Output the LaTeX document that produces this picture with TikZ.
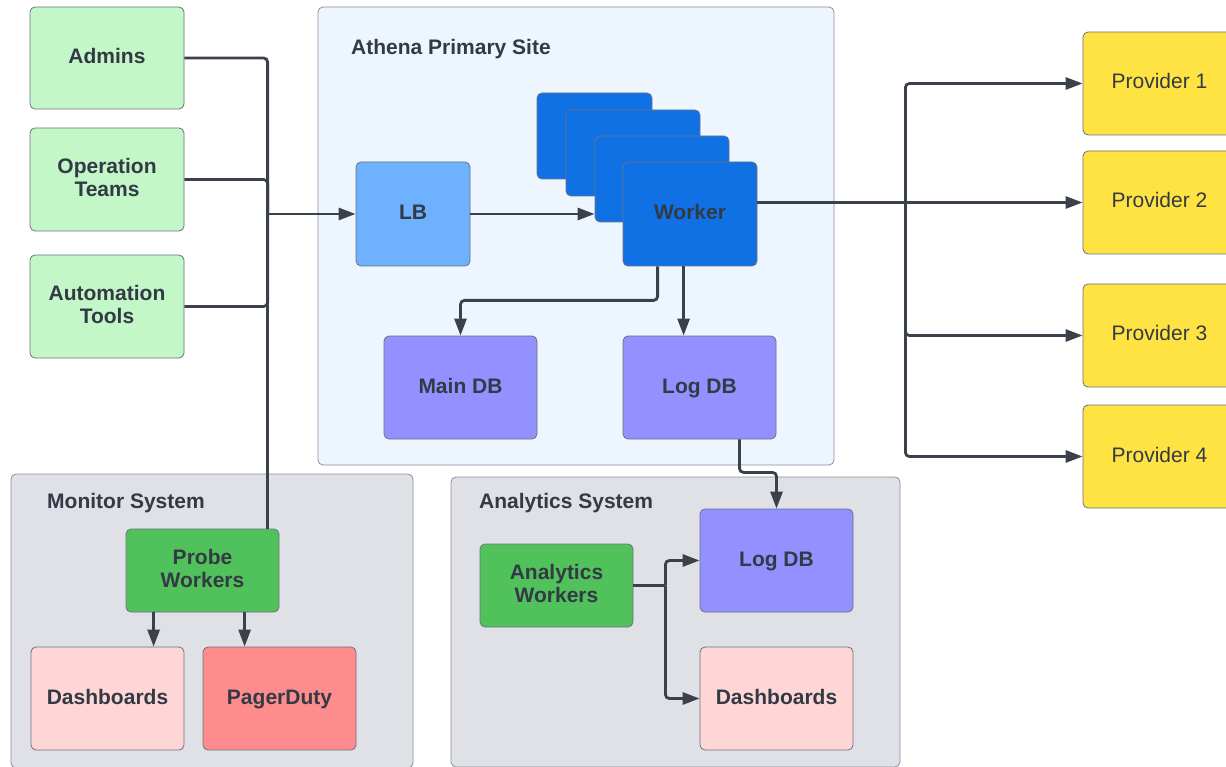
\documentclass[tikz,border=0pt]{standalone}
\usepackage{fontspec}
\setmainfont{Liberation Sans}
\usetikzlibrary{arrows.meta,calc}
\definecolor{txt}{HTML}{333A45}
\definecolor{lnc}{HTML}{3A414A}
\definecolor{bord}{HTML}{6B7280}
\definecolor{athfill}{HTML}{EDF5FE}
\definecolor{sysfill}{HTML}{DFE1E6}
\definecolor{lgreen}{HTML}{C3F7C8}
\definecolor{lbblue}{HTML}{6DB1FF}
\definecolor{wblue}{HTML}{1071E5}
\definecolor{dbpurple}{HTML}{9391FF}
\definecolor{pyellow}{HTML}{FFE342}
\definecolor{dgreen}{HTML}{51C15B}
\definecolor{lpink}{HTML}{FFD6D6}
\definecolor{lred}{HTML}{FF8C8C}
\begin{document}
\begin{tikzpicture}[x=1pt,y=-1pt,
  bx/.style={rounded corners=5pt, draw=bord, line width=0.8pt, inner sep=0pt, align=center,
    text height=15pt, text depth=4pt,
    font=\bfseries\fontsize{21}{23}\selectfont, text=txt},
  twoline/.style={text height=38pt, text depth=4pt},
  cont/.style={rounded corners=5pt, draw=bord!80, line width=0.8pt, inner sep=0pt},
  ttl/.style={anchor=base west, inner sep=0pt, font=\bfseries\fontsize{21}{23}\selectfont, text=txt},
  ln/.style={draw=lnc, line width=2.8pt, rounded corners=4pt},
  arr/.style={ln, -{Triangle[length=17pt,width=12pt]}}]
\useasboundingbox (0,0) rectangle (1226,767);
\fill[white] (0,0) rectangle (1226,767);
% containers
\node[cont, fill=athfill, minimum width=516pt, minimum height=458pt] (athena) at (576,236) {};
\node[cont, fill=sysfill, minimum width=402pt, minimum height=294pt] (monitor) at (212,621) {};
\node[cont, fill=sysfill, minimum width=449pt, minimum height=290pt] (analytics) at (675.5,622) {};
\node[ttl] (athtitle) at (351,54.5) {Athena Primary Site};
\node[ttl] (montitle) at (47,508.5) {Monitor System};
\node[ttl] (anatitle) at (479,508.5) {Analytics System};
% left sources
\node[bx, fill=lgreen, minimum width=154pt, minimum height=102pt] (admins) at (107,58) {Admins};
\node[bx, twoline, fill=lgreen, minimum width=154pt, minimum height=103pt] (ops) at (107,179.5) {Operation\\Teams};
\node[bx, twoline, fill=lgreen, minimum width=154pt, minimum height=103pt] (auto) at (107,306.5) {Automation\\Tools};
% athena
\node[bx, fill=lbblue, minimum width=114pt, minimum height=104pt] (lb) at (413,214) {LB};
\node[bx, fill=wblue, minimum width=115pt, minimum height=86pt] (w1) at (594.5,136) {};
\node[bx, fill=wblue, minimum width=134pt, minimum height=86pt] (w2) at (633,153) {};
\node[bx, fill=wblue, minimum width=134pt, minimum height=86pt] (w3) at (662,179) {};
\node[bx, fill=wblue, minimum width=134pt, minimum height=104pt] (worker) at (690,214) {Worker};
\node[bx, fill=dbpurple, minimum width=153pt, minimum height=103pt] (maindb) at (460.5,387.5) {Main DB};
\node[bx, fill=dbpurple, minimum width=153pt, minimum height=103pt] (logdb) at (699.5,387.5) {Log DB};
% providers
\foreach \i/\y in {1/83.5,2/202.5,3/335.5,4/456.5}{
  \node[bx, fill=pyellow, minimum width=153pt, minimum height=103pt, font=\fontsize{21}{23}\selectfont] (p\i) at (1159.5,\y) {Provider \i};
}
% monitor
\node[bx, twoline, fill=dgreen, minimum width=153pt, minimum height=83pt] (probe) at (202.5,570.5) {Probe\\Workers};
\node[bx, fill=lpink, minimum width=153pt, minimum height=103pt] (mdash) at (107.5,698.5) {Dashboards};
\node[bx, fill=lred, minimum width=153pt, minimum height=103pt] (pager) at (279.5,698.5) {PagerDuty};
% analytics
\node[bx, twoline, fill=dgreen, minimum width=153pt, minimum height=83pt] (aworkers) at (556.5,585.5) {Analytics\\Workers};
\node[bx, fill=dbpurple, minimum width=153pt, minimum height=103pt] (alogdb) at (776.5,560.5) {Log DB};
\node[bx, fill=lpink, minimum width=153pt, minimum height=103pt] (adash) at (776.5,698.5) {Dashboards};
% connectors: sources to LB
\coordinate (j1) at ($(lb.west)+(-88,0)$);
\draw[ln] (admins.east) -| (j1);
\draw[ln] (ops.east) -| (j1);
\draw[ln] (auto.east) -| (j1);
\coordinate (ptop) at ($(probe.north west)+(142,0)$);
\draw[ln] (ptop) -- (ptop |- j1);
\draw[arr, rounded corners=0pt] (j1) -- (lb.west);
% LB to worker
\draw[arr] (lb.east) -- (lb.east -| w3.west);
% worker to providers
\coordinate (wout) at (worker.east |- p2.west);
\coordinate (jp) at ($(wout)+(148,0)$);
\draw[arr] (wout) -- (p2.west);
\draw[arr] (jp) |- (p1.west);
\draw[arr] (jp) |- (p3.west);
\draw[arr] (jp) |- (p4.west);
% worker to DBs
\coordinate (ws1) at ($(worker.south west)+(35,0)$);
\coordinate (ws2) at ($(worker.south west)+(61,0)$);
\draw[arr] (ws1) -- ++(0,34) -| (maindb.north);
\draw[arr] (ws2) -- (ws2 |- logdb.north);
% log db to analytics log db
\coordinate (ls) at ($(logdb.south)+(40,0)$);
\draw[arr] (ls) -- ++(0,33) -| (alogdb.north);
% analytics workers
\coordinate (aj) at ($(aworkers.east)+(32,0)$);
\draw[ln] (aworkers.east) -- (aj);
\draw[arr] (aj) |- (alogdb.west);
\draw[arr] (aj) |- (adash.west);
% probe to dashboards / pagerduty
\coordinate (pb1) at ($(probe.south west)+(28,0)$);
\coordinate (pb2) at ($(probe.south west)+(119,0)$);
\draw[arr] (pb1) -- (pb1 |- mdash.north);
\draw[arr] (pb2) -- (pb2 |- pager.north);
\end{tikzpicture}
\end{document}
